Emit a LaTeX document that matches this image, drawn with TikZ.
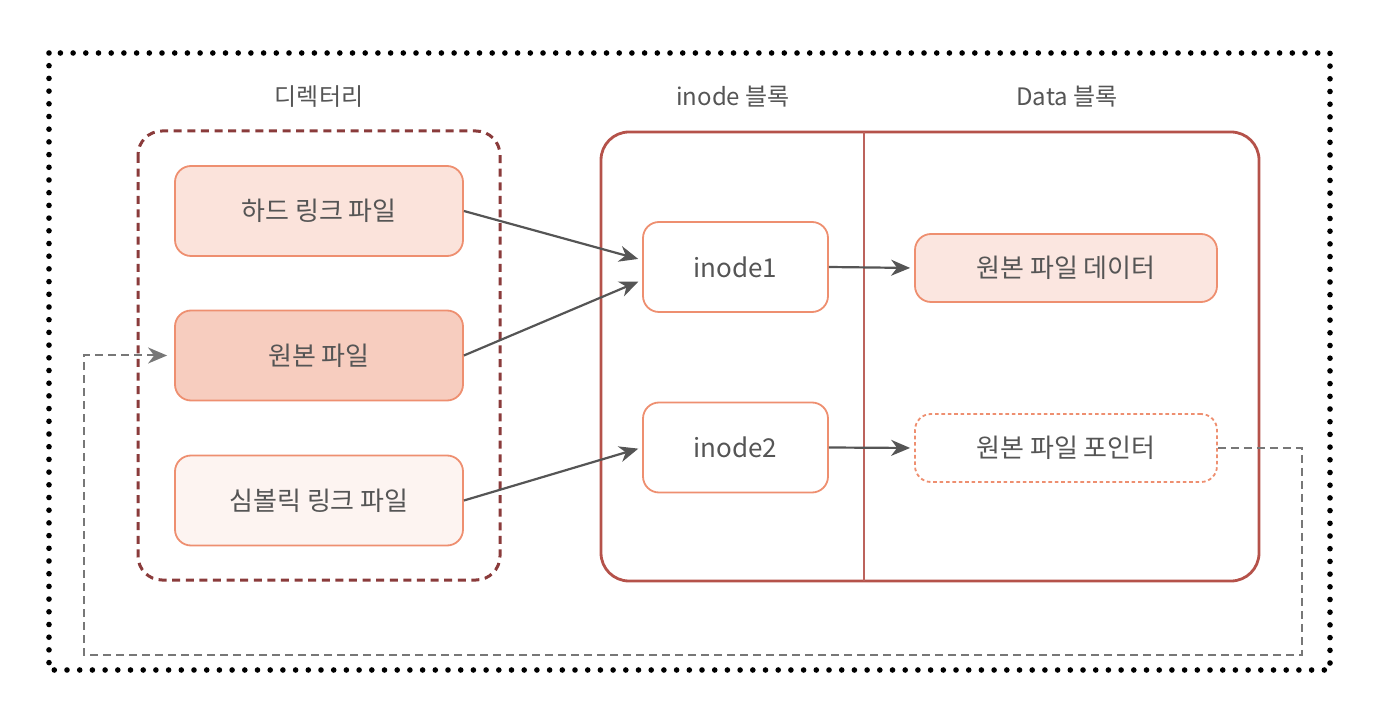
\documentclass[tikz,border=0pt]{standalone}
\usepackage{fontspec}
\setmainfont{Noto Sans CJK KR}
\usetikzlibrary{arrows.meta}
\definecolor{txt}{HTML}{555555}
\definecolor{edge}{HTML}{EE8F70}
\definecolor{frame}{HTML}{8A3B3B}
\definecolor{blkline}{HTML}{B5524A}
\definecolor{lnk}{HTML}{555555}
\def\tfont{\fontsize{12}{14}\selectfont}
\def\bfont{\fontsize{13}{15}\selectfont}

\begin{document}
\begin{tikzpicture}[x=0.5pt,y=-0.5pt,
    file/.style={draw=edge,line width=0.9pt,rounded corners=8pt,text=txt,font=\bfont,
                 minimum width=144pt,minimum height=45pt,inner sep=0pt},
    ino/.style={file,fill=white,minimum width=92.5pt},
    dat/.style={file,minimum width=151pt,minimum height=34pt},
    title/.style={text=txt,font=\tfont,inner sep=0pt},
    arr/.style={draw=lnk,line width=1.1pt,-{Stealth[length=9.5pt,width=8pt,inset=3pt]},shorten >=2pt},
    back/.style={draw=lnk!80,line width=1pt,dash pattern=on 4pt off 2.5pt,
                 -{Stealth[length=9.5pt,width=8pt,inset=3pt]},shorten >=3.5pt}]
  \useasboundingbox (0,0) rectangle (1374,710);
  % outer dotted frame
  \draw[line width=2.8pt,line cap=round,dash pattern=on 0pt off 6.35pt]
    (49,53) rectangle (1330,670);
  % titles
  \node[title] (tdir) at (319,97) {디렉터리};
  \node[title] (tino) at (733,97) {inode 블록};
  \node[title] (tdat) at (1067,97) {Data 블록};
  % directory
  \draw[frame,line width=1.5pt,dash pattern=on 4pt off 2.8pt,rounded corners=12pt]
    (138,131) rectangle (500,580);
  \node[file,fill=edge!25]  (hard) at (319,211) {하드 링크 파일};
  \node[file,fill=edge!45]  (orig) at (319,355.5) {원본 파일};
  \node[file,fill=edge!10]  (sym)  at (319,500.5) {심볼릭 링크 파일};
  % inode and data blocks
  \draw[blkline,line width=1.4pt,rounded corners=14pt] (601,132) rectangle (1259,581);
  \draw[blkline!90,line width=0.6pt] (864,132) -- (864,581);
  \node[ino] (ino1) at (735.5,267) {inode1};
  \node[ino] (ino2) at (735.5,447.5) {inode2};
  \node[dat,fill=edge!22] (data) at (1066,268) {원본 파일 데이터};
  \node[dat,fill=white,dash pattern=on 1.8pt off 1.4pt] (ptr) at (1066,448) {원본 파일 포인터};
  % links
  \draw[arr] (hard.east) -- ([yshift=3.5pt]ino1.west);
  \draw[arr] (orig.east) -- ([yshift=-6.5pt]ino1.west);
  \draw[arr] (sym.east) -- (ino2.west);
  \draw[arr] (ino1.east) -- (data.west);
  \draw[arr] (ino2.east) -- (ptr.west);
  \coordinate (rr) at (1302,655);
  \coordinate (ll) at (84,655);
  \draw[back] (ptr.east) -| (rr) -- (ll) |- (orig.west);
\end{tikzpicture}
\end{document}
